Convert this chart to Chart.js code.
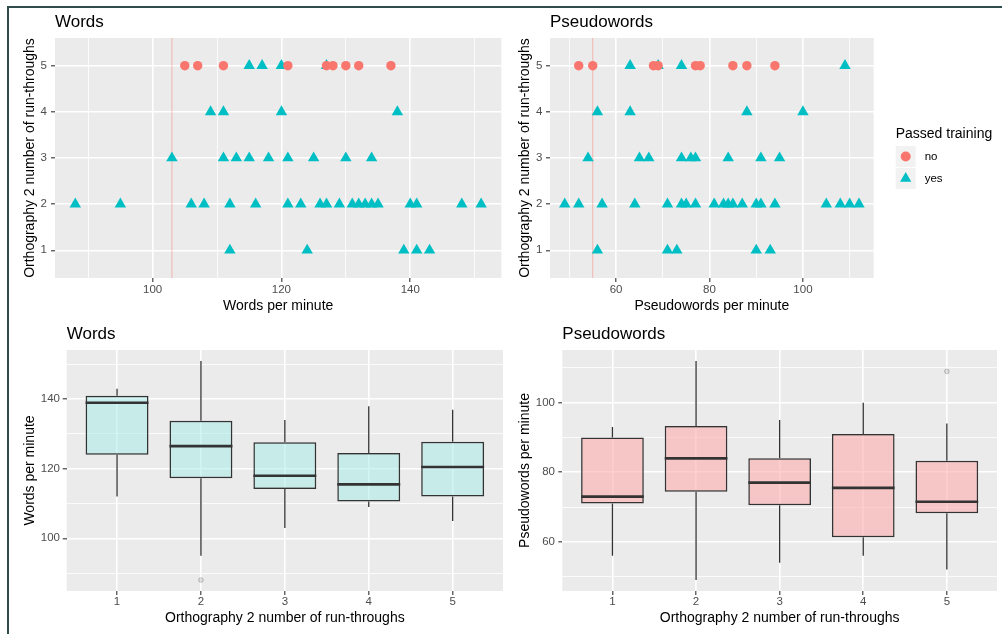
<!DOCTYPE html>
<html>
<head>
<meta charset="utf-8" />
<title>Reading speed by Orthography 2 run-throughs</title>
<script src="https://cdn.jsdelivr.net/npm/chart.js"></script>
<style>
  html, body { margin: 0; padding: 0; background: #fff; }
  body { width: 1002px; height: 634px; position: relative; overflow: hidden; }
  #frame { position: absolute; left: 7px; top: 6px; right: -4px; bottom: -4px;
           border-left: 2px solid #2f4b4b; border-top: 2px solid #2f4b4b; }
  canvas { position: absolute; }
</style>
</head>
<body>
<div id="frame"></div>
<canvas id="wordsScatter" width="500" height="315" style="left:8px;top:7px"></canvas>
<canvas id="pseudoScatter" width="494" height="315" style="left:508px;top:7px"></canvas>
<canvas id="wordsBox" width="500" height="316" style="left:8px;top:318px"></canvas>
<canvas id="pseudoBox" width="494" height="316" style="left:508px;top:318px"></canvas>
<script>
// run-through levels (y of the scatters, x of the box plots)
const runLevels = [1, 2, 3, 4, 5];

// words per minute, one list per run-through level
const wordsYesByRuns = [
  [112, 124, 139, 141, 143],
  [88, 95, 106, 108, 112, 116, 121, 123, 126, 127, 129, 131, 132, 133, 134, 135, 140, 141, 148, 151],
  [103, 111, 113, 115, 118, 121, 125, 130, 134],
  [109, 111, 120, 138],
  [115, 117, 120, 127]
];
const wordsNoByRuns = [[], [], [], [], [105, 107, 111, 121, 127, 128, 130, 132, 137]];
const wordsCutoff = 103;

// pseudowords per minute
const pseudoYesByRuns = [
  [56, 71, 73, 90, 93],
  [49, 52, 57, 64, 71, 74, 75, 77, 81, 83, 84, 85, 87, 90, 91, 94, 105, 108, 110, 112],
  [54, 65, 67, 74, 76, 77, 84, 91, 95],
  [56, 63, 88, 100],
  [63, 69, 74, 109]
];
const pseudoNoByRuns = [[], [], [], [], [52, 55, 68, 69, 77, 78, 85, 88, 94]];
const pseudoCutoff = 55;

// box plot summaries
const wordsLow    = [112, 95, 103, 109, 105];
const wordsQ1     = [124, 117.3, 114.2, 110.6, 112];
const wordsMedian = [139, 126.5, 118, 115.5, 120.5];
const wordsQ3     = [141, 133.8, 127.6, 124.5, 127.8];
const wordsHigh   = [143, 151, 134, 138, 137];
const wordsOutliers = [[], [88], [], [], []];

const pseudoLow    = [56, 49, 54, 56, 52];
const pseudoQ1     = [71, 74.4, 70.5, 61.3, 68.2];
const pseudoMedian = [73, 84, 77, 75.5, 71.5];
const pseudoQ3     = [90, 93.3, 84, 91, 83.3];
const pseudoHigh   = [93, 112, 95, 100, 94];
const pseudoOutliers = [[], [], [], [], [109]];

// tick labels
const wordsMajor = [100, 120, 140];
const wordsMinor = [90, 110, 130, 150];
const pseudoMajor = [60, 80, 100];
const pseudoMinor = [50, 70, 90, 110];

const FONT = "'Liberation Sans', Arial, sans-serif";
const RED = '#F8766D';
const TEAL = '#00BFC4';
Chart.defaults.font.family = FONT;
Chart.defaults.color = '#4D4D4D';
Chart.defaults.animation = false;

function padRange(values, mult) {
  const lo = Math.min(...values), hi = Math.max(...values);
  const d = (hi - lo) * mult;
  return [lo - d, hi + d];
}
const wordsLim = padRange(wordsYesByRuns.flat().concat(wordsNoByRuns.flat()), 0.05);
const pseudoLim = padRange(pseudoYesByRuns.flat().concat(pseudoNoByRuns.flat()), 0.05);
const runLim = [runLevels[0] - 0.6, runLevels[runLevels.length - 1] + 0.6];

const panelBg = {
  id: 'panelBg',
  beforeDraw(chart) {
    const { ctx, chartArea: a } = chart;
    ctx.save();
    ctx.fillStyle = '#EBEBEB';
    ctx.fillRect(a.left, a.top, a.right - a.left, a.bottom - a.top);
    ctx.restore();
  }
};

function drawSymbol(ctx, style, x, y, r) {
  ctx.beginPath();
  if (style === 'triangle') {
    let rad = 0;
    ctx.moveTo(x + Math.sin(rad) * r, y - Math.cos(rad) * r);
    rad += Math.PI * 2 / 3;
    ctx.lineTo(x + Math.sin(rad) * r, y - Math.cos(rad) * r);
    rad += Math.PI * 2 / 3;
    ctx.lineTo(x + Math.sin(rad) * r, y - Math.cos(rad) * r);
    ctx.closePath();
  } else {
    ctx.arc(x, y, r, 0, Math.PI * 2);
  }
  ctx.fill();
}

// ggplot style legend with grey key boxes, to the right of the panel
const keyLegend = {
  id: 'keyLegend',
  afterDraw(chart, args, opts) {
    if (!opts.title) return;
    const { ctx, chartArea: a } = chart;
    const mid = (a.top + a.bottom) / 2;
    const x0 = a.right + 22;
    const items = chart.data.datasets.filter(d => d.legendLabel);
    ctx.save();
    ctx.textAlign = 'left';
    ctx.fillStyle = '#000';
    ctx.font = '14px ' + FONT;
    ctx.textBaseline = 'alphabetic';
    ctx.fillText(opts.title, x0, mid - 20);
    items.forEach((d, i) => {
      const top = mid - 12 + i * 22;
      ctx.fillStyle = '#F2F2F2';
      ctx.fillRect(x0, top, 20, 21);
      ctx.fillStyle = d.backgroundColor;
      drawSymbol(ctx, d.pointStyle, x0 + 10, top + 10.5, d.pointStyle === 'triangle' ? 6.5 : 5);
      ctx.fillStyle = '#000';
      ctx.font = '11.5px ' + FONT;
      ctx.textBaseline = 'middle';
      ctx.fillText(d.legendLabel, x0 + 29, top + 10.5);
    });
    ctx.restore();
  }
};

function gridFor(major) {
  const isMajor = c => c.tick && major.includes(c.tick.value);
  return {
    color: '#FFFFFF',
    lineWidth: c => isMajor(c) ? 1.6 : 0.8,
    tickColor: c => isMajor(c) ? '#333333' : 'rgba(0,0,0,0)',
    tickWidth: 1.1,
    tickLength: 4
  };
}

function axis(position, lim, major, minor, title, lay) {
  const all = major.concat(minor).sort((a, b) => a - b);
  return {
    type: 'linear',
    position,
    min: lim[0],
    max: lim[1],
    offset: false,
    afterBuildTicks: s => { s.ticks = all.map(v => ({ value: v })); },
    afterFit: s => { if (position === 'left') s.width = lay.size; else s.height = lay.size; },
    ticks: {
      autoSkip: false, maxRotation: 0, padding: lay.tickPad,
      color: '#4D4D4D', font: { size: 11.5 },
      callback: v => major.includes(v) ? String(v) : ''
    },
    grid: Object.assign(gridFor(major), { offset: false }),
    border: { display: false },
    title: {
      display: true, text: title, color: '#000', font: { size: 14 },
      padding: position === 'left' ? { top: lay.titlePad, bottom: 0 } : { top: 0, bottom: lay.titlePad }
    }
  };
}

function titleOpts(text, bottom) {
  return {
    display: true, text, align: 'start', fullSize: false, color: '#000',
    font: { size: 17, weight: 'normal' }, padding: { top: 0, bottom }
  };
}

function toPoints(byRuns) {
  return byRuns.flatMap((vals, i) => vals.map(v => ({ x: v, y: runLevels[i] })));
}

function scatterChart(id, yes, no, cutoff, lim, major, minor, title, xTitle, lay) {
  return new Chart(document.getElementById(id), {
    type: 'scatter',
    data: {
      datasets: [
        { legendLabel: 'no', data: toPoints(no), pointStyle: 'circle', pointRadius: 4.7,
          backgroundColor: RED, borderWidth: 0, pointHoverRadius: 4.7 },
        { legendLabel: 'yes', data: toPoints(yes), pointStyle: 'triangle', pointRadius: 6.6,
          backgroundColor: TEAL, borderWidth: 0, pointHoverRadius: 6.6 },
        { data: [{ x: cutoff, y: runLim[0] }, { x: cutoff, y: runLim[1] }], showLine: true,
          borderColor: 'rgba(248,118,109,0.45)', borderWidth: 1, pointRadius: 0 }
      ]
    },
    options: {
      responsive: false,
      devicePixelRatio: 1,
      layout: { padding: lay.padding },
      events: [],
      scales: {
        x: axis('bottom', lim, major, minor, xTitle, lay.x),
        y: axis('left', runLim, runLevels, [], 'Orthography 2 number of run-throughs', lay.y)
      },
      plugins: {
        legend: { display: false },
        tooltip: { enabled: false },
        title: titleOpts(title, lay.titleGap),
        keyLegend: lay.legend || {}
      }
    },
    plugins: [panelBg, keyLegend]
  });
}

function boxChart(id, low, q1, med, q3, high, outliers, fill, lim, major, minor, title, yTitle, lay) {
  const halfBox = c => {
    const s = c.chart.scales.x;
    return (s.getPixelForValue(2) - s.getPixelForValue(1)) * 0.75 / 2;
  };
  return new Chart(document.getElementById(id), {
    type: 'bar',
    data: {
      datasets: [
        { type: 'line', showLine: false, data: runLevels.map((r, i) => ({ x: r, y: med[i] })),
          pointStyle: 'line', pointRadius: halfBox, pointHoverRadius: halfBox,
          pointBorderColor: '#333333', pointBorderWidth: 2.6 },
        { type: 'line', showLine: false, data: toPoints(outliers).map(p => ({ x: p.y, y: p.x })),
          pointStyle: 'circle', pointRadius: 2.4, pointBackgroundColor: 'rgba(0,0,0,0.1)',
          pointBorderColor: 'rgba(0,0,0,0.18)', pointBorderWidth: 1 },
        { data: runLevels.map((r, i) => ({ x: r, y: [q1[i], q3[i]] })), grouped: false,
          backgroundColor: fill, borderColor: '#333333', borderWidth: 1.5, borderSkipped: false,
          barPercentage: 0.75, categoryPercentage: 1 },
        { data: runLevels.map((r, i) => ({ x: r, y: [low[i], q1[i]] })), grouped: false,
          backgroundColor: '#333333', borderWidth: 0, barThickness: 1.3, inflateAmount: 0 },
        { data: runLevels.map((r, i) => ({ x: r, y: [q3[i], high[i]] })), grouped: false,
          backgroundColor: '#333333', borderWidth: 0, barThickness: 1.3, inflateAmount: 0 }
      ]
    },
    options: {
      responsive: false,
      devicePixelRatio: 1,
      layout: { padding: lay.padding },
      events: [],
      scales: {
        x: axis('bottom', runLim, runLevels, [], 'Orthography 2 number of run-throughs', lay.x),
        y: Object.assign(axis('left', lim, major, minor, yTitle, lay.y), { beginAtZero: false })
      },
      plugins: {
        legend: { display: false },
        tooltip: { enabled: false },
        title: titleOpts(title, lay.titleGap)
      }
    },
    plugins: [panelBg]
  });
}

scatterChart('wordsScatter', wordsYesByRuns, wordsNoByRuns, wordsCutoff, wordsLim,
  wordsMajor, wordsMinor, 'Words', 'Words per minute', {
    padding: { left: 0, right: 3, top: 4.8, bottom: 0 }, titleGap: 5.8,
    x: { size: 44, tickPad: 1, titlePad: 7.6 },
    y: { size: 47, tickPad: 4, titlePad: 13.6 }
  });

scatterChart('pseudoScatter', pseudoYesByRuns, pseudoNoByRuns, pseudoCutoff, pseudoLim,
  pseudoMajor, pseudoMinor, 'Pseudowords', 'Pseudowords per minute', {
    padding: { left: 0, right: 128.3, top: 4.8, bottom: 0 }, titleGap: 5.8,
    x: { size: 44, tickPad: 1, titlePad: 7.6 },
    y: { size: 42, tickPad: 3.5, titlePad: 8.6 },
    legend: { title: 'Passed training' }
  });

boxChart('wordsBox', wordsLow, wordsQ1, wordsMedian, wordsQ3, wordsHigh, wordsOutliers,
  'rgba(163,235,229,0.5)', wordsLim, wordsMajor, wordsMinor, 'Words', 'Words per minute', {
    padding: { left: 0, right: 2.7, top: 6, bottom: 0 }, titleGap: 5.6,
    x: { size: 43, tickPad: 0, titlePad: 7.9 },
    y: { size: 58.7, tickPad: 2.7, titlePad: 13.6 }
  });

boxChart('pseudoBox', pseudoLow, pseudoQ1, pseudoMedian, pseudoQ3, pseudoHigh, pseudoOutliers,
  'rgba(253,172,173,0.6)', pseudoLim, pseudoMajor, pseudoMinor, 'Pseudowords', 'Pseudowords per minute', {
    padding: { left: 0, right: 1, top: 6, bottom: 0 }, titleGap: 5.6,
    x: { size: 43, tickPad: 0, titlePad: 7.9 },
    y: { size: 54.3, tickPad: 3.3, titlePad: 8.6 }
  });
</script>
</body>
</html>
